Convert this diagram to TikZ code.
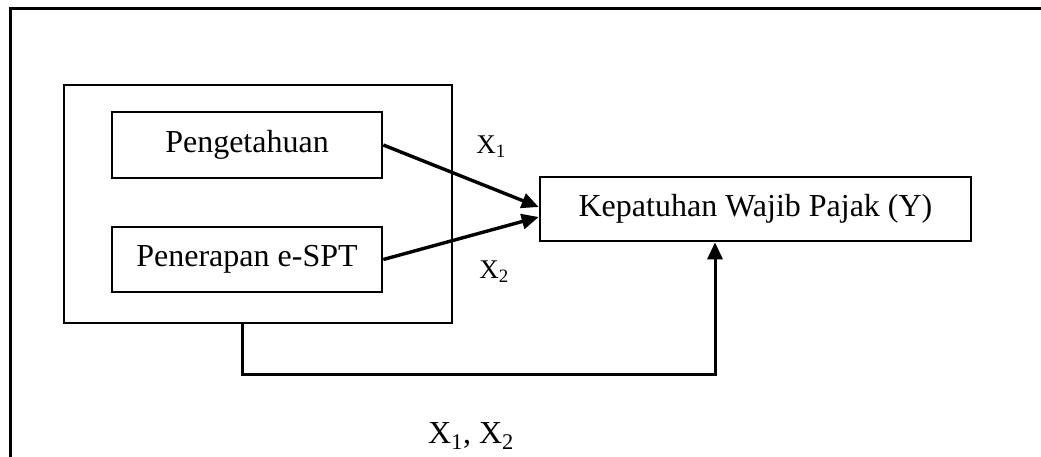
\documentclass[tikz,border=0pt]{standalone}
\usepackage{fontspec}
\setmainfont{Liberation Serif}
\usetikzlibrary{arrows.meta,calc}
\begin{document}
\begin{tikzpicture}[x=1pt,y=-1pt,
  box/.style={draw,line width=2.6pt,inner sep=0pt,font=\fontsize{32}{38}\selectfont},
  link/.style={line width=3.4pt,-{Triangle[length=17pt,width=15pt]}},
  lbl/.style={inner sep=0pt,font=\fontsize{27}{32}\selectfont},
  txt/.style={font=\fontsize{32}{38}\selectfont}]
  \useasboundingbox (0,0) rectangle (1041,457);
  % frame
  \coordinate (fa) at (10,470);
  \coordinate (fb) at (10,9);
  \coordinate (fc) at (1060,9);
  \draw[line width=3pt] (fa) -- (fb) -- (fc);
  % grouping box of the independent variables
  \node[box,minimum width=388pt,minimum height=238pt] (grp) at (258,204) {};
  \node[box,minimum width=270pt,minimum height=66pt] (peng) at (247,145) {Pengetahuan};
  \node[box,minimum width=270pt,minimum height=65pt] (pen) at (247,259.5) {Penerapan e-SPT};
  \node[box,minimum width=431pt,minimum height=64pt] (kep) at (755.5,209) {Kepatuhan Wajib Pajak (Y)};
  % partial effects
  \draw[link] (peng.east) -- ($(kep.west)+(0,-2)$);
  \draw[link] (pen.east) -- ($(kep.west)+(0,8)$);
  \node[lbl] (x1) at (491,147) {X\textsubscript{1}};
  \node[lbl] (x2) at (494,272) {X\textsubscript{2}};
  % simultaneous effect
  \coordinate (s0) at ([xshift=-16pt]grp.south);
  \coordinate (s1) at (242,374);
  \coordinate (s2) at (715,374);
  \draw[line width=3pt,-{Triangle[length=17pt,width=15pt]}] (s0) -- (s1) -- (s2) -- (s2 |- kep.south);
  \node[txt] (x12) at (471,436) {X\textsubscript{1}, X\textsubscript{2}};
\end{tikzpicture}
\end{document}
